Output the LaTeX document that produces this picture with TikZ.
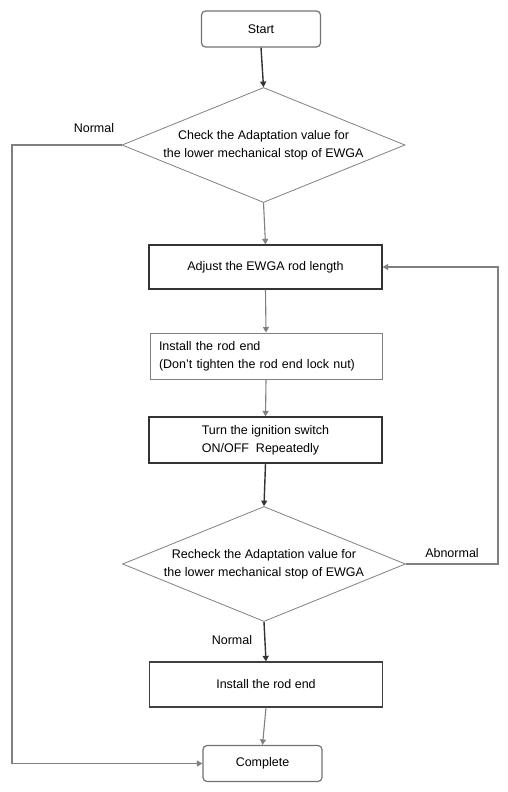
\documentclass[tikz,border=0pt]{standalone}
\usepackage{fontspec}
\setmainfont{Liberation Sans}
\usetikzlibrary{shapes.geometric,arrows.meta}
\begin{document}
\begin{tikzpicture}[x=1pt,y=-1pt,
  every node/.style={font=\fontsize{12.5}{18}\selectfont},
  roundbox/.style={draw=black!55,line width=1.2pt,rounded corners=4pt,minimum width=119pt,minimum height=36pt,align=center},
  thickbox/.style={draw=black!80,line width=1.3pt,minimum width=233pt,minimum height=44pt,align=center},
  thinbox/.style={draw=black!50,line width=1pt,minimum width=232pt,minimum height=46pt,align=left},
  decision/.style={diamond,draw=black!50,line width=0.8pt,aspect=2.45,minimum width=283pt,minimum height=115pt,inner sep=0pt,align=center},
  darrow/.style={draw=black!80,line width=1.4pt,-{Triangle[length=5.5pt,width=6pt]}},
  garrow/.style={draw=black!50,line width=1.1pt,-{Triangle[length=5.5pt,width=6pt]}},
  lbl/.style={font=\fontsize{12.5}{18}\selectfont}]
\useasboundingbox (0,0) rectangle (508,792);
\fill[white] (0,0) rectangle (508,792);
\node[roundbox] (start) at (261,29) {Start};
\node[decision] (d1) at (263.5,145) {Check the Adaptation value for\\the lower mechanical stop of EWGA};
\node[thickbox] (adj) at (265.5,267) {Adjust the EWGA rod length};
\node[thinbox,text width=214pt,inner xsep=9pt] (inst) at (266,356) {Install the rod end\\(Don't tighten the rod end lock nut)};
\node[thickbox,minimum height=46pt,align=left] (turn) at (265.5,440) {Turn the ignition switch\\ON/OFF\ \ Repeatedly};
\node[decision] (d2) at (264,564) {Recheck the Adaptation value for\\the lower mechanical stop of EWGA};
\node[thickbox,draw=black!75,minimum height=45pt] (inst2) at (266,684.5) {Install the rod end};
\node[roundbox] (comp) at (262.5,763.5) {Complete};
\coordinate (l1) at (12,145);
\coordinate (l2) at (12,763.5);
\coordinate (r1) at (498,564);
\coordinate (r2) at (498,267);
\draw[darrow] (start.south) -- (d1.north);
\draw[garrow] (d1.south) -- (adj.north);
\draw[garrow] (adj.south) -- (inst.north);
\draw[garrow] (inst.south) -- (turn.north);
\draw[darrow] (turn.south) -- (d2.north);
\draw[darrow] (d2.south) -- (inst2.north);
\draw[garrow] (inst2.south) -- (comp.north);
\draw[garrow] (d1.west) -- (l1) -- (l2) -- (comp.west);
\draw[garrow] (d2.east) -- (r1) -- (r2) -- (adj.east);
\node[lbl] (n1) at (94,128) {Normal};
\node[lbl] (n2) at (232,640) {Normal};
\node[lbl] (ab) at (452,553) {Abnormal};
\end{tikzpicture}
\end{document}
